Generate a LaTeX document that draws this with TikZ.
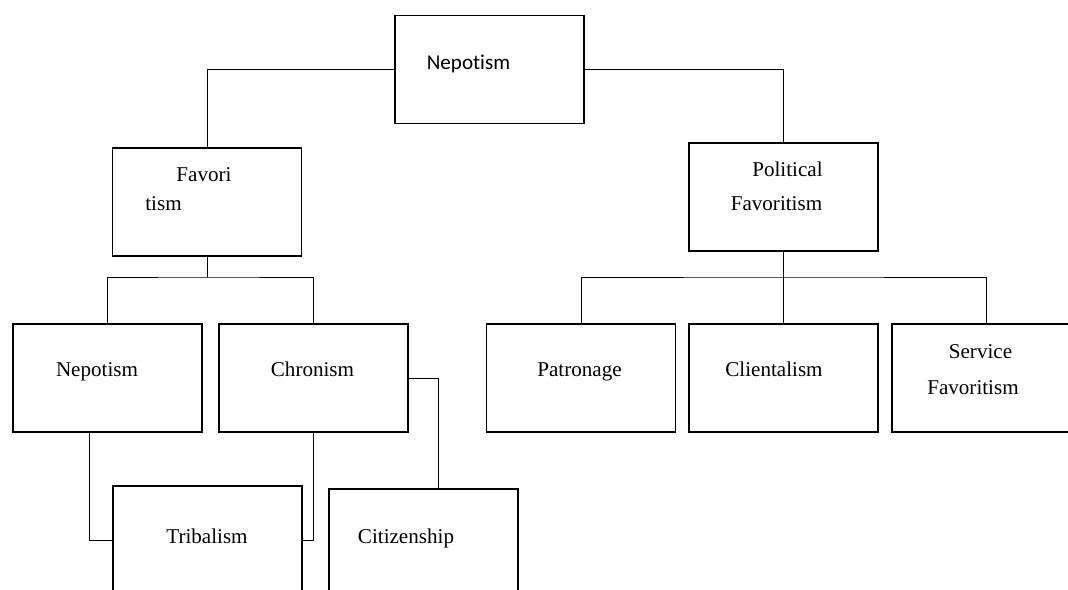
\documentclass[tikz,border=0pt]{standalone}
\usepackage{fontspec}
\setmainfont{Liberation Serif}
\newfontfamily\calibri[Ligatures=NoCommon]{Carlito}
\usepackage{tikz}

\begin{document}
\begin{tikzpicture}[x=0.02cm, y=-0.02cm,
    box/.style={draw, line width=0.8pt, rectangle, minimum width=3.78cm, minimum height=2.16cm, inner sep=0pt},
    lbl/.style={anchor=base, inner sep=0pt, font=\fontsize{12}{14}\selectfont},
    link/.style={draw, line width=0.5pt}]
  % Page frame
  \useasboundingbox (0,0) rectangle (1068,590);
  \clip (0,0) rectangle (1068,590);

  % Boxes
  \node[box] (top) at (489.5,69.5) {};
  \node[box] (fav) at (207,202) {};
  \node[box] (polfav) at (783.5,197) {};
  \node[box] (nep) at (107.5,378) {};
  \node[box] (chron) at (313.5,378) {};
  \node[box] (patr) at (581,378) {};
  \node[box] (client) at (783.5,378) {};
  \node[box] (serv) at (986.5,378) {};
  \node[box] (trib) at (207.5,540) {};
  \node[box] (citiz) at (423.5,543) {};

  % Labels
  \node[lbl, font=\fontsize{12}{14}\calibri] (top-t) at (468.5,70) {Nepotism};
  \node[lbl] (fav-t1) at (204,182) {Favori};
  \node[lbl] (fav-t2) at (163.5,211) {tism};
  \node[lbl] (polfav-t1) at (787.5,177) {Political};
  \node[lbl] (polfav-t2) at (776.5,211) {Favoritism};
  \node[lbl] (nep-t) at (97,377) {Nepotism};
  \node[lbl] (chron-t) at (312.5,377) {Chronism};
  \node[lbl] (patr-t) at (579.5,377) {Patronage};
  \node[lbl] (client-t) at (774,377) {Clientalism};
  \node[lbl] (serv-t1) at (980.5,359) {Service};
  \node[lbl] (serv-t2) at (973,395) {Favoritism};
  \node[lbl] (trib-t) at (207,544) {Tribalism};
  \node[lbl] (citiz-t) at (406,544) {Citizenship};

  % Connectors
  \coordinate (favfork) at (207,277);
  \coordinate (polfork) at (783.5,277);
  \path[link] (top.west) -| (fav.north);
  \path[link] (top.east) -| (polfav.north);
  \path[link] (fav.south) -- (favfork);
  \path[link] (nep.north) |- (favfork) -| (chron.north);
  \path[link] (polfav.south) -- (client.north);
  \path[link] (patr.north) |- (polfork) -| (serv.north);
  \path[link] ([xshift=-10.5]nep.south) |- (trib.west);
  \path[link] (chron.south) |- (trib.east);
  \path[link] (chron.east) -| ([xshift=8.5]citiz.north);
\end{tikzpicture}
\end{document}
